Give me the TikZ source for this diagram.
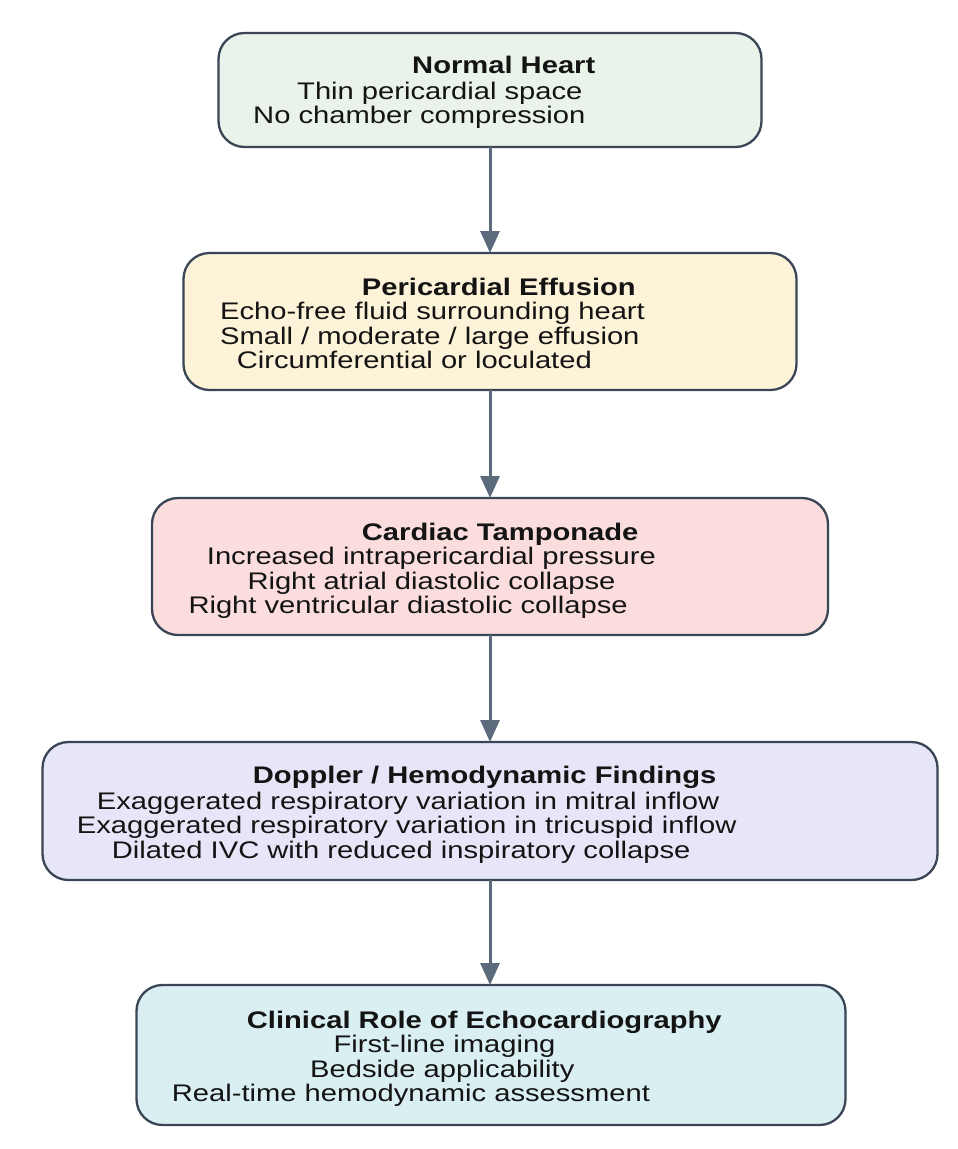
\documentclass[tikz,border=0pt]{standalone}
\usepackage{fontspec}
\usepackage{graphicx}
\setmainfont{Liberation Sans}
\usetikzlibrary{arrows.meta}
\definecolor{bordc}{HTML}{3A4656}
\definecolor{arrc}{HTML}{5B6B7C}
\definecolor{fillA}{HTML}{E9F3EA}
\definecolor{fillB}{HTML}{FDF3D9}
\definecolor{fillC}{HTML}{FADDDC}
\definecolor{fillD}{HTML}{E6E6F8}
\definecolor{fillE}{HTML}{D9EFF2}
\definecolor{txt}{HTML}{141414}
\newcommand{\wide}[1]{\scalebox{1.215}[1]{#1}}
\begin{document}
\begin{tikzpicture}[x=1pt,y=-1pt,
  box/.style={draw=bordc, line width=2.3pt, rounded corners=26pt, inner sep=0pt, outer sep=0pt},
  ttl/.style={anchor=base west, inner sep=0pt, text=txt, font=\fontsize{24}{25}\selectfont\bfseries},
  ln/.style={anchor=base west, inner sep=0pt, text=txt, font=\fontsize{24}{25}\selectfont},
  arr/.style={draw=arrc, line width=3pt, -{Triangle[length=22pt,width=19pt]}}]
\fill[white] (0,0) rectangle (958,1149);
\useasboundingbox (0,0) rectangle (958,1149);

\node[box, fill=fillA, minimum width=543pt, minimum height=114pt] (b1) at (490,90) {};
\node[box, fill=fillB, minimum width=613pt, minimum height=137pt] (b2) at (490,321.5) {};
\node[box, fill=fillC, minimum width=676pt, minimum height=137pt] (b3) at (490,566.5) {};
\node[box, fill=fillD, minimum width=895pt, minimum height=138pt] (b4) at (490,811) {};
\node[box, fill=fillE, minimum width=709pt, minimum height=140pt] (b5) at (491,1055) {};

\node[ttl] (t1) at (412,73.3) {\wide{Normal Heart}};
\node[ln] (t1a) at (297,99) {\wide{Thin pericardial space}};
\node[ln] (t1b) at (253,123.3) {\wide{No chamber compression}};

\node[ttl] (t2) at (361.7,295) {\wide{Pericardial Effusion}};
\node[ln] (t2a) at (220,319) {\wide{Echo-free fluid surrounding heart}};
\node[ln] (t2b) at (220,344) {\wide{Small / moderate / large effusion}};
\node[ln] (t2c) at (236.7,368.3) {\wide{Circumferential or loculated}};

\node[ttl] (t3) at (361.7,540) {\wide{Cardiac Tamponade}};
\node[ln] (t3a) at (206.7,564) {\wide{Increased intrapericardial pressure}};
\node[ln] (t3b) at (247.3,589) {\wide{Right atrial diastolic collapse}};
\node[ln] (t3c) at (188.3,613.3) {\wide{Right ventricular diastolic collapse}};

\node[ttl] (t4) at (252.7,783.3) {\wide{Doppler / Hemodynamic Findings}};
\node[ln] (t4a) at (96.7,809) {\wide{Exaggerated respiratory variation in mitral inflow}};
\node[ln] (t4b) at (76.7,833.3) {\wide{Exaggerated respiratory variation in tricuspid inflow}};
\node[ln] (t4c) at (111.7,858.3) {\wide{Dilated IVC with reduced inspiratory collapse}};

\node[ttl] (t5) at (246.7,1028) {\wide{Clinical Role of Echocardiography}};
\node[ln] (t5a) at (333.3,1052) {\wide{First-line imaging}};
\node[ln] (t5b) at (310,1077) {\wide{Bedside applicability}};
\node[ln] (t5c) at (171.7,1101.3) {\wide{Real-time hemodynamic assessment}};

\draw[arr] (b1.south) -- (b2.north);
\draw[arr] (b2.south) -- (b3.north);
\draw[arr] (b3.south) -- (b4.north);
\draw[arr] (b4.south) -- (b4.south |- b5.north);
\end{tikzpicture}
\end{document}
